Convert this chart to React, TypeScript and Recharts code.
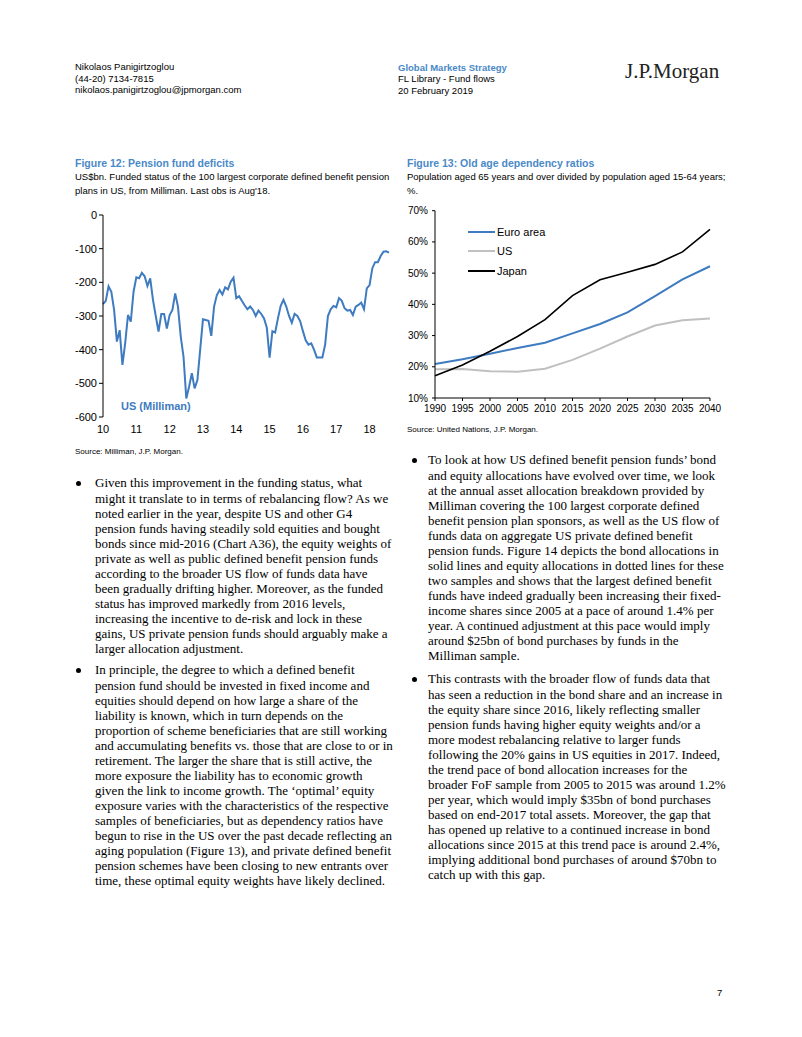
import React from 'react';
import { LineChart, Line, XAxis, YAxis, Legend } from 'recharts';

// ---------- Figure 12 data (US$bn, monthly Jan-2010 .. Aug-2018) ----------
const pensionDeficit: number[] = [
  -265, -255, -212, -228, -282, -376, -342, -445, -380, -297, -317, -228,
  -185, -188, -172, -182, -211, -188, -252, -300, -346, -294, -294, -337,
  -297, -282, -233, -272, -361, -421, -545, -510, -470, -515, -490, -400,
  -310, -312, -314, -359, -272, -238, -223, -236, -215, -221, -198, -186,
  -247, -241, -255, -268, -280, -272, -282, -300, -284, -294, -307, -335,
  -424, -345, -349, -307, -270, -252, -272, -300, -320, -294, -300, -315,
  -345, -372, -385, -381, -400, -423, -423, -423, -385, -300, -280, -270,
  -274, -247, -255, -277, -284, -282, -297, -272, -267, -260, -280, -218,
  -208, -158, -140, -140, -122, -109, -108, -112,
];
const yearTickMonths: number[] = [0, 12, 24, 36, 48, 60, 72, 84, 96];
const yearTickLabels: string[] = ['10', '11', '12', '13', '14', '15', '16', '17', '18'];
const deficitTicks: number[] = [0, -100, -200, -300, -400, -500, -600];

// ---------- Figure 13 data (% old age dependency) ----------
const years: number[] = [1990, 1995, 2000, 2005, 2010, 2015, 2020, 2025, 2030, 2035, 2040];
const euroArea: number[] = [20.9, 22.4, 24.2, 26.0, 27.7, 30.7, 33.7, 37.4, 42.6, 48.0, 52.2];
const usRatio: number[] = [19.2, 19.3, 18.6, 18.4, 19.4, 22.2, 25.8, 29.7, 33.2, 34.9, 35.5];
const japan: number[] = [17.1, 20.6, 25.0, 29.7, 35.1, 42.8, 47.9, 50.3, 52.8, 56.8, 64.0];
const pctTicks: number[] = [10, 20, 30, 40, 50, 60, 70];
const ratioSeriesOrder: string[] = ['Euro area', 'US', 'Japan'];

const deficitData = pensionDeficit.map((v, i) => ({ m: i, v }));
const ratioData = years.map((y, i) => ({ year: y, euro: euroArea[i], us: usRatio[i], japan: japan[i] }));

const SANS = '"Liberation Sans", Arial, sans-serif';
const SERIF = '"Liberation Serif", "Times New Roman", serif';
const TITLE_BLUE = '#4a89c8';
const LINE_BLUE = '#3e7bc0';

const tickStyle = { fontSize: 11, fill: '#000', fontFamily: SANS };
const tickStyleR = { fontSize: 10, fill: '#000', fontFamily: SANS };

const bullet1L = [
  'Given this improvement in the funding status, what',
  'might it translate to in terms of rebalancing flow? As we',
  'noted earlier in the year, despite US and other G4',
  'pension funds having steadily sold equities and bought',
  'bonds since mid-2016 (Chart A36), the equity weights of',
  'private as well as public defined benefit pension funds',
  'according to the broader US flow of funds data have',
  'been gradually drifting higher. Moreover, as the funded',
  'status has improved markedly from 2016 levels,',
  'increasing the incentive to de-risk and lock in these',
  'gains, US private pension funds should arguably make a',
  'larger allocation adjustment.',
];
const bullet2L = [
  'In principle, the degree to which a defined benefit',
  'pension fund should be invested in fixed income and',
  'equities should depend on how large a share of the',
  'liability is known, which in turn depends on the',
  'proportion of scheme beneficiaries that are still working',
  'and accumulating benefits vs. those that are close to or in',
  'retirement. The larger the share that is still active, the',
  'more exposure the liability has to economic growth',
  'given the link to income growth. The \u2018optimal\u2019 equity',
  'exposure varies with the characteristics of the respective',
  'samples of beneficiaries, but as dependency ratios have',
  'begun to rise in the US over the past decade reflecting an',
  'aging population (Figure 13), and private defined benefit',
  'pension schemes have been closing to new entrants over',
  'time, these optimal equity weights have likely declined.',
];
const bullet1R = [
  'To look at how US defined benefit pension funds\u2019 bond',
  'and equity allocations have evolved over time, we look',
  'at the annual asset allocation breakdown provided by',
  'Milliman covering the 100 largest corporate defined',
  'benefit pension plan sponsors, as well as the US flow of',
  'funds data on aggregate US private defined benefit',
  'pension funds. Figure 14 depicts the bond allocations in',
  'solid lines and equity allocations in dotted lines for these',
  'two samples and shows that the largest defined benefit',
  'funds have indeed gradually been increasing their fixed-',
  'income shares since 2005 at a pace of around 1.4% per',
  'year. A continued adjustment at this pace would imply',
  'around $25bn of bond purchases by funds in the',
  'Milliman sample.',
];
const bullet2R = [
  'This contrasts with the broader flow of funds data that',
  'has seen a reduction in the bond share and an increase in',
  'the equity share since 2016, likely reflecting smaller',
  'pension funds having higher equity weights and/or a',
  'more modest rebalancing relative to larger funds',
  'following the 20% gains in US equities in 2017. Indeed,',
  'the trend pace of bond allocation increases for the',
  'broader FoF sample from 2005 to 2015 was around 1.2%',
  'per year, which would imply $35bn of bond purchases',
  'based on end-2017 total assets. Moreover, the gap that',
  'has opened up relative to a continued increase in bond',
  'allocations since 2015 at this trend pace is around 2.4%,',
  'implying additional bond purchases of around $70bn to',
  'catch up with this gap.',
];

const LH = 15.07;

function Txt({ x, y, size, children, color = '#000', bold = false, font = SANS, lh }: any) {
  const lineH = lh ?? size * 1.2;
  return (
    <div
      style={{
        position: 'absolute',
        left: x,
        top: y - lineH / 2,
        fontSize: size,
        lineHeight: `${lineH}px`,
        color,
        fontWeight: bold ? 700 : 400,
        fontFamily: font,
        whiteSpace: 'nowrap',
      }}
    >
      {children}
    </div>
  );
}

function Bullet({ x, textX, y, lines }: { x: number; textX: number; y: number; lines: string[] }) {
  return (
    <>
      <div
        style={{
          position: 'absolute',
          left: x - 2.5,
          top: y - 2.5,
          width: 5,
          height: 5,
          borderRadius: '50%',
          background: '#000',
        }}
      />
      <div
        style={{
          position: 'absolute',
          left: textX,
          top: y - LH / 2,
          fontFamily: SERIF,
          fontSize: 13,
          lineHeight: `${LH}px`,
          color: '#000',
          whiteSpace: 'nowrap',
        }}
      >
        {lines.map((l, i) => (
          <div key={i}>{l}</div>
        ))}
      </div>
    </>
  );
}

const DeficitLegend = (props: any) => {
  const p = props.payload && props.payload[0];
  if (!p) return null;
  return (
    <div style={{ fontFamily: SANS, fontSize: 11, fontWeight: 700, color: LINE_BLUE, whiteSpace: 'nowrap' }}>
      {p.value}
    </div>
  );
};

const RatioLegend = (props: any) => {
  const items = [...(props.payload || [])].sort(
    (a: any, b: any) => ratioSeriesOrder.indexOf(a.value) - ratioSeriesOrder.indexOf(b.value)
  );
  return (
    <div style={{ fontFamily: SANS, fontSize: 11, color: '#000' }}>
      {items.map((it: any) => (
        <div key={it.value} style={{ display: 'flex', alignItems: 'center', height: 19.5 }}>
          <div style={{ width: 27, height: 2, background: it.color, marginRight: 2 }} />
          <span>{it.value}</span>
        </div>
      ))}
    </div>
  );
};

export default function App() {
  return (
    <div
      style={{
        position: 'absolute',
        left: 0,
        top: 0,
        width: 802,
        height: 1037,
        background: '#fff',
        overflow: 'hidden',
      }}
    >
      {/* Header */}
      <Txt x={75} y={67} size={9.5}>Nikolaos Panigirtzoglou</Txt>
      <Txt x={75} y={78.5} size={9.5}>(44-20) 7134-7815</Txt>
      <Txt x={75} y={90} size={9.5}>nikolaos.panigirtzoglou@jpmorgan.com</Txt>
      <Txt x={398} y={67.5} size={9.5} bold color={TITLE_BLUE}>Global Markets Strategy</Txt>
      <Txt x={398} y={79} size={9.5}>FL Library - Fund flows</Txt>
      <Txt x={398} y={91} size={9.5}>20 February 2019</Txt>
      <Txt x={625} y={72} size={21} font={SERIF} color="#222">J.P.Morgan</Txt>

      {/* Figure 12 */}
      <Txt x={75} y={163} size={10.5} bold color={TITLE_BLUE}>Figure 12: Pension fund deficits</Txt>
      <Txt x={75} y={177} size={9.5}>US$bn. Funded status of the 100 largest corporate defined benefit pension</Txt>
      <Txt x={75} y={191} size={9.5}>plans in US, from Milliman. Last obs is Aug'18.</Txt>

      <div style={{ position: 'absolute', left: 60, top: 205 }}>
        <LineChart width={340} height={240} data={deficitData} margin={{ top: 10, right: 11, bottom: 0, left: 0 }}>
          <XAxis
            xAxisId="top"
            orientation="top"
            dataKey="m"
            type="number"
            domain={[0, 103]}
            ticks={yearTickMonths}
            mirror
            height={0}
            tickSize={3}
            tickFormatter={() => ''}
            axisLine={{ stroke: '#000', strokeWidth: 1 }}
            tickLine={{ stroke: '#000' }}
          />
          <XAxis
            dataKey="m"
            type="number"
            domain={[0, 103]}
            ticks={yearTickMonths}
            tickFormatter={(v: number) => yearTickLabels[yearTickMonths.indexOf(v)] ?? ''}
            axisLine={false}
            tickLine={false}
            height={28}
            tick={tickStyle}
            interval={0}
          />
          <YAxis
            type="number"
            domain={[-600, 0]}
            ticks={deficitTicks}
            width={43}
            tickSize={4}
            tick={tickStyle}
            axisLine={{ stroke: '#000' }}
            tickLine={{ stroke: '#000' }}
            interval={0}
          />
          <Legend
            content={<DeficitLegend />}
            layout="horizontal"
            verticalAlign="middle"
            align="center"
            wrapperStyle={{ position: 'absolute', left: 61, top: 195, width: 'auto' }}
          />
          <Line
            dataKey="v"
            name="US (Milliman)"
            stroke={LINE_BLUE}
            strokeWidth={2}
            dot={false}
            isAnimationActive={false}
          />
        </LineChart>
      </div>
      <Txt x={75} y={452} size={8}>Source: Milliman, J.P. Morgan.</Txt>

      {/* Figure 13 */}
      <Txt x={407} y={163} size={10.5} bold color={TITLE_BLUE}>Figure 13: Old age dependency ratios</Txt>
      <Txt x={407} y={177} size={9.5}>Population aged 65 years and over divided by population aged 15-64 years;</Txt>
      <Txt x={407} y={191} size={9.5}>%.</Txt>

      <div style={{ position: 'absolute', left: 400, top: 200 }}>
        <LineChart width={330} height={230} data={ratioData} margin={{ top: 10.7, right: 20, bottom: 8, left: 0 }}>
          <XAxis
            dataKey="year"
            type="number"
            domain={[1990, 2040]}
            ticks={years}
            interval={0}
            height={24}
            tickSize={3}
            tickMargin={4}
            tick={tickStyleR}
            axisLine={{ stroke: '#000' }}
            tickLine={{ stroke: '#000' }}
          />
          <YAxis
            type="number"
            domain={[10, 70]}
            ticks={pctTicks}
            interval={0}
            width={35}
            tickSize={3}
            tickMargin={4}
            tick={tickStyleR}
            tickFormatter={(v: number) => `${v}%`}
            axisLine={{ stroke: '#000' }}
            tickLine={{ stroke: '#000' }}
          />
          <Legend
            content={<RatioLegend />}
            layout="horizontal"
            verticalAlign="middle"
            align="center"
            wrapperStyle={{ position: 'absolute', left: 68, top: 22, width: 'auto' }}
          />
          <Line dataKey="euro" name="Euro area" stroke={LINE_BLUE} strokeWidth={2} dot={false} isAnimationActive={false} />
          <Line dataKey="us" name="US" stroke="#c0c0c0" strokeWidth={2} dot={false} isAnimationActive={false} />
          <Line dataKey="japan" name="Japan" stroke="#000" strokeWidth={1.6} dot={false} isAnimationActive={false} />
        </LineChart>
      </div>
      <Txt x={407} y={430} size={8}>Source:  United Nations, J.P. Morgan.</Txt>

      {/* Body text */}
      <Bullet x={78} textX={95} y={483} lines={bullet1L} />
      <Bullet x={78} textX={95} y={670} lines={bullet2L} />
      <Bullet x={414} textX={428} y={460} lines={bullet1R} />
      <Bullet x={414} textX={428} y={679} lines={bullet2R} />

      <Txt x={717} y={993} size={9.5}>7</Txt>
    </div>
  );
}
